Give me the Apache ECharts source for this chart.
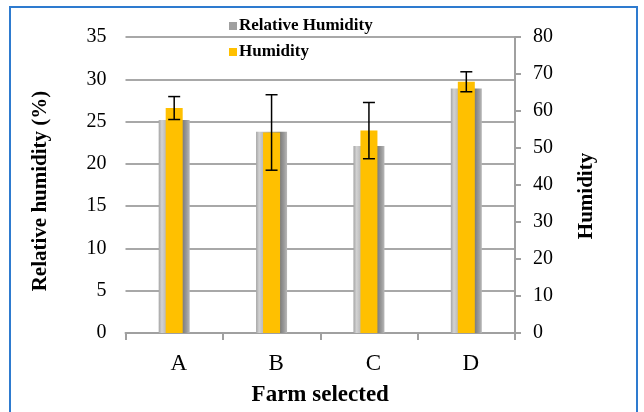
<!DOCTYPE html>
<html>
<head>
<meta charset="utf-8">
<script src="https://cdn.jsdelivr.net/npm/echarts@6/dist/echarts.min.js"></script>
<style>
html,body{margin:0;padding:0;background:#fff;}
#chart{width:644px;height:412px;}
</style>
</head>
<body>
<div id="chart"></div>
<script>
const categories = ['A', 'B', 'C', 'D'];
const relHumidity = [25.2, 23.8, 22.1, 28.9];
const humidity = [60.8, 54.2, 54.7, 67.9];
const humidityErr = [3.1, 10.2, 7.6, 2.7];
const leftTicks = { min: 0, max: 35, interval: 5 };
const rightTicks = { min: 0, max: 80, interval: 10 };

const FONT = '"Liberation Serif", "Times New Roman", serif';
const chart = echarts.init(document.getElementById('chart'));

const metal = new echarts.graphic.LinearGradient(0, 0, 1, 0, [
  { offset: 0, color: '#a4a4a4' },
  { offset: 0.1, color: '#d2d2d2' },
  { offset: 0.22, color: '#bcbcbc' },
  { offset: 0.5, color: '#a0a0a0' },
  { offset: 0.78, color: '#7e7e7e' },
  { offset: 0.9, color: '#9a9a9a' },
  { offset: 1, color: '#b8b8b8' }
]);

const errData = humidity.map((v, i) => [i, v - humidityErr[i], v + humidityErr[i]]);

chart.setOption({
  backgroundColor: '#ffffff',
  animation: false,
  graphic: [{
    type: 'rect',
    shape: { x: 10, y: 7, width: 627, height: 440 },
    style: { fill: 'none', stroke: '#2e7bcf', lineWidth: 2 },
    silent: true,
    z: 100
  }],
  legend: {
    orient: 'vertical',
    left: 224,
    top: 12,
    itemWidth: 8,
    itemHeight: 8,
    itemGap: 8,
    textStyle: { fontFamily: FONT, fontWeight: 'bold', fontSize: 17, color: '#000', lineHeight: 18, padding: [0, 0, 0, -3] },
    data: [
      { name: 'Relative Humidity', icon: 'rect', itemStyle: { color: '#a0a0a0' } },
      { name: 'Humidity', icon: 'rect', itemStyle: { color: '#FFC000' } }
    ]
  },
  grid: { left: 125.5, right: 129, top: 37, bottom: 76 },
  xAxis: [{
    type: 'category',
    data: categories,
    axisLine: { show: true, lineStyle: { color: '#a0a0a0', width: 2 } },
    axisTick: { show: true, length: 7, lineStyle: { color: '#a0a0a0', width: 2 } },
    axisLabel: { fontFamily: FONT, fontSize: 23, color: '#000', margin: 19, padding: [0, 0, 0, 9] },
    name: 'Farm selected',
    nameLocation: 'middle',
    nameGap: 51,
    nameTextStyle: { fontFamily: FONT, fontWeight: 'bold', fontSize: 23, color: '#000' }
  }, {
    type: 'category',
    data: categories,
    show: false
  }],
  yAxis: [{
    type: 'value',
    min: leftTicks.min, max: leftTicks.max, interval: leftTicks.interval,
    axisLine: { show: false },
    axisTick: { show: false },
    splitLine: { show: true, lineStyle: { color: '#a8a8a8', width: 2 } },
    axisLabel: { fontFamily: FONT, fontSize: 20, color: '#000', margin: 19 },
    name: 'Relative humidity (%)',
    nameLocation: 'middle',
    nameRotate: 90,
    nameGap: 74,
    nameTextStyle: { fontFamily: FONT, fontWeight: 'bold', fontSize: 21, color: '#000', padding: [0, 12, 0, 0] }
  }, {
    type: 'value',
    position: 'right',
    min: rightTicks.min, max: rightTicks.max, interval: rightTicks.interval,
    axisLine: { show: true, lineStyle: { color: '#a0a0a0', width: 2 } },
    axisTick: { show: true, inside: false, length: 6, lineStyle: { color: '#a0a0a0', width: 2 } },
    splitLine: { show: false },
    axisLabel: { fontFamily: FONT, fontSize: 20, color: '#000', margin: 18 },
    name: 'Humidity',
    nameLocation: 'middle',
    nameRotate: 90,
    nameGap: 61,
    nameTextStyle: { fontFamily: FONT, fontWeight: 'bold', fontSize: 21, color: '#000', padding: [0, 22, 0, 0] }
  }],
  series: [{
    name: 'Relative Humidity',
    type: 'bar',
    xAxisIndex: 0,
    yAxisIndex: 0,
    barWidth: 31,
    data: relHumidity,
    itemStyle: { color: metal }
  }, {
    name: 'Humidity',
    type: 'bar',
    xAxisIndex: 1,
    yAxisIndex: 1,
    barWidth: 17,
    data: humidity,
    itemStyle: { color: '#FFC000' },
    z: 3
  }, {
    name: 'err',
    type: 'custom',
    xAxisIndex: 1,
    yAxisIndex: 1,
    data: errData,
    z: 5,
    renderItem: function (params, api) {
      const x = api.value(0);
      const lo = api.coord([x, api.value(1)]);
      const hi = api.coord([x, api.value(2)]);
      const c = 6;
      const st = { stroke: '#000', lineWidth: 1.5 };
      return {
        type: 'group',
        children: [
          { type: 'line', shape: { x1: lo[0], y1: lo[1], x2: hi[0], y2: hi[1] }, style: st },
          { type: 'line', shape: { x1: lo[0] - c, y1: lo[1], x2: lo[0] + c, y2: lo[1] }, style: st },
          { type: 'line', shape: { x1: hi[0] - c, y1: hi[1], x2: hi[0] + c, y2: hi[1] }, style: st }
        ]
      };
    }
  }]
});
</script>
</body>
</html>
